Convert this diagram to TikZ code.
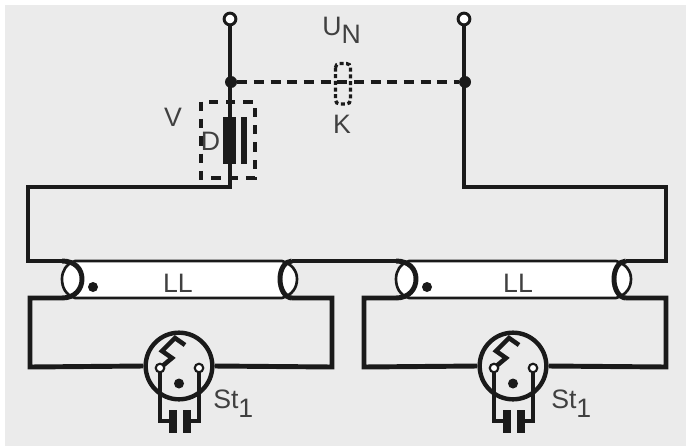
\documentclass[tikz,border=0pt]{standalone}
\usepackage{fontspec}
\setmainfont{Liberation Sans}
\definecolor{panel}{HTML}{EBEBEB}
\definecolor{ink}{HTML}{1A1A1A}
\definecolor{lettering}{HTML}{404040}
\tikzset{
	wire/.style={draw=ink, line width=3.7pt, line cap=butt, line join=miter},
	thinwire/.style={draw=ink, line width=2pt},
	linkwire/.style={draw=ink, line width=3pt, dash pattern=on 7.5pt off 5pt},
	boxline/.style={draw=ink, line width=3pt, dash pattern=on 7pt off 6pt},
	capline/.style={draw=ink, line width=2.5pt, dash pattern=on 3pt off 2pt, rounded corners=3pt},
	terminal/.style={circle, draw=ink, fill=white, line width=2.2pt, inner sep=0pt, minimum size=8.8pt},
	pin/.style={circle, draw=ink, fill=white, line width=1.6pt, inner sep=0pt, minimum size=6.4pt},
	junction/.style={circle, fill=ink, inner sep=0pt, minimum size=9pt},
	spot/.style={circle, fill=ink, inner sep=0pt, minimum size=7.5pt},
	lbl/.style={text=lettering, font=\fontsize{20}{20}\selectfont, inner sep=0pt}
}
% one lamp with its starter, #1 is the centre of the left tube end
\newcommand{\lampunit}[2]{
	\begin{scope}[shift={(#1,0)}]
		\filldraw[thinwire, fill=white] (3,261) .. controls (-6,264) and (-10,271) .. (-10,279) .. controls (-10,288) and (-6,295) .. (3,298) -- (210,298) .. controls (220,295) and (225,288) .. (225,279) .. controls (225,271) and (220,264) .. (210,261) -- cycle;
		% filament ends
		\coordinate (topl#2) at (-10,261);
		\coordinate (botl#2) at (-10,298);
		\coordinate (topr#2) at (220,261);
		\coordinate (botr#2) at (220,298);
		\draw[wire] (topl#2) .. controls (3,261) and (10,269) .. (10,279) .. controls (10,289) and (3,298) .. (botl#2);
		\draw[wire] (topr#2) .. controls (213,261) and (208,269) .. (208,279) .. controls (208,289) and (213,298) .. (botr#2);
		\node[spot] (dot#2) at (21,287) {};
		% starter
		\node[circle, draw=ink, line width=3.3pt, inner sep=0pt, minimum size=50pt, fill=panel] (glow#2) at (107,366) {};
		\node[spot] (mid#2) at (107,383.5) {};
		\draw[wire, line width=3.4pt] (88,368) -- (100,358) -- (90,351) -- (103,338) -- (113,345);
		\draw[wire] (88,368) -- (88,421) -- (103,421);
		\draw[wire] (127,368) -- (127,421) -- (112,421);
		\draw[draw=ink, line width=6pt] (100.5,410) -- (100.5,433);
		\draw[draw=ink, line width=6pt] (114.5,410) -- (114.5,433);
		\node[pin] (pinl#2) at (88,368) {};
		\node[pin] (pinr#2) at (127,368) {};
	\end{scope}
}
\begin{document}
\begin{tikzpicture}[x=0.75pt, y=-0.75pt]
	\useasboundingbox (0,0) rectangle (688,446);
	\fill[white] (0,0) rectangle (688,446);
	\fill[panel] (5,5) rectangle (686,446);

	\lampunit{72}{a}
	\lampunit{406}{b}
	\node[lbl, anchor=base] (tubea) at (178,292) {LL};
	\node[lbl, anchor=base] (tubeb) at (518,292) {LL};

	% outer wiring
	\draw[wire] (230,24) -- (230,187) -- (28,187) -- (28,261) -- (topla);
	\draw[wire] (464,24) -- (464,187) -- (666,187) -- (666,261) -- (toprb);
	\draw[wire] (botla) -- (30,298) -- (30,367) -- (glowa.west);
	\draw[wire] (botrb) -- (666,298) -- (666,367) -- (glowb.east);
	\draw[wire] (topra) -- (toplb);
	\draw[wire] (botra) -- (332,298) -- (332,367) -- (glowa.east);
	\draw[wire] (botlb) -- (364,298) -- (364,367) -- (glowb.west);

	\node[terminal] (inl) at (230,19) {};
	\node[terminal] (inr) at (464,19) {};
	\node[junction] (jl) at (231,82) {};
	\node[junction] (jr) at (465,82) {};
	\draw[linkwire] (jl) -- (jr);

	% ballast
	\draw[boxline] (200.5,101.5) rectangle (254.5,177.5);
	\filldraw[fill=ink, draw=none] (223,117) rectangle (236,164);
	\filldraw[fill=ink, draw=none] (241,117) rectangle (247,164);
	\node[lbl, anchor=base] (choke) at (210.5,150) {D};
	\node[lbl, anchor=base] (vlabel) at (173,126) {V};

	% capacitor
	\draw[capline] (335.5,63.5) rectangle (350.5,104);
	\node[lbl, anchor=base] (cap) at (342,133) {K};
	\node[lbl, anchor=base west] (volt) at (322,35) {U\raisebox{-6pt}{N}};

	\node[lbl, anchor=base west] (sta) at (213,408) {St\raisebox{-7pt}{1}};
	\node[lbl, anchor=base west] (stb) at (551,408) {St\raisebox{-7pt}{1}};
\end{tikzpicture}
\end{document}
